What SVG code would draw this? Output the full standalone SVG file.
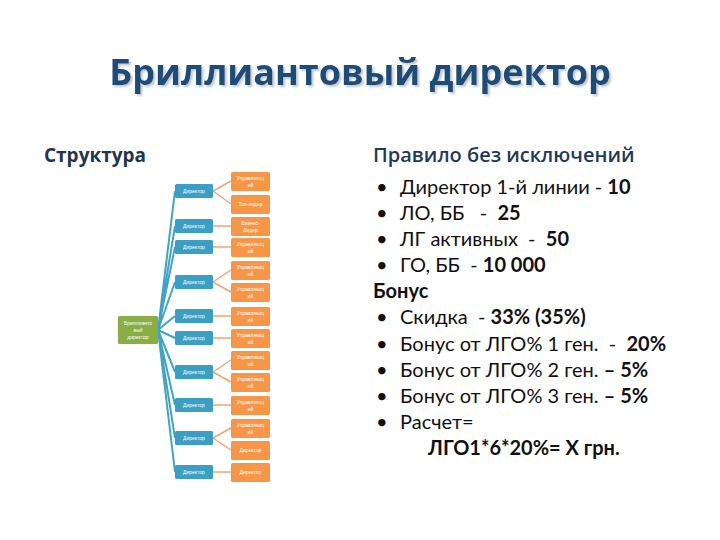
<svg xmlns="http://www.w3.org/2000/svg" width="720" height="540" viewBox="0 0 720 540">
<style>
.t{font-family:"Open Sans","DejaVu Sans",sans-serif;font-weight:bold}
.b{font-family:Lato,"Liberation Sans",sans-serif;font-size:20px;fill:#111}
.bb{font-weight:bold}
.dir rect{fill:#3A9FC4}
.org rect{fill:#F79646}
.root rect{fill:#8AAE45}
.nt{font-family:"Liberation Sans",sans-serif;font-size:5px;fill:#fff;text-anchor:middle}
.bl{stroke:#3FA4C8;stroke-width:2;fill:none}
.ol{stroke:#F3A46E;stroke-width:1.5;fill:none}
</style>
<defs>
<filter id="sh" x="-5%" y="-30%" width="110%" height="160%"><feDropShadow dx="2" dy="2" stdDeviation="1" flood-color="#9aa0a8" flood-opacity="0.6"/></filter>
</defs>
<rect width="720" height="540" fill="#fff"/>
<text x="360" y="85" class="t" font-size="36" text-anchor="middle" fill="#1F4E79" filter="url(#sh)">Бриллиантовый директор</text>
<text x="44" y="162" class="t" font-size="19" fill="#1F3550">Структура</text>
<text x="373" y="162" class="t" font-size="20" fill="#1F3A5C" style="font-weight:600">Правило без исключений</text>

<g id="connectors">
<path class="bl" d="M158,330 L175,191 M158,330 L175,226 M158,330 L175,247 M158,330 L175,282 M158,330 L175,316 M158,330 L175,338 M158,330 L175,372 M158,330 L175,405 M158,330 L175,438 M158,330 L175,472"/>
<path class="ol" d="M213,191 L231,181 M213,191 L231,204 M213,226 L231,226 M213,247 L231,247 M213,282 L231,270 M213,282 L231,292 M213,316 L231,316 M213,338 L231,338 M213,372 L231,360 M213,372 L231,382 M213,405 L231,405 M213,438 L231,428 M213,438 L231,450 M213,472 L231,472"/>
</g>

<g id="root" class="root"><rect x="118" y="316" width="40" height="28" rx="1.5"/>
<text class="nt" x="138" y="325">Бриллианто</text><text class="nt" x="138" y="332">вый</text><text class="nt" x="138" y="339">директор</text></g>

<g id="d1" class="dir"><rect x="175" y="184" width="38" height="14" rx="1.5"/><text class="nt" x="194" y="192.5">Директор</text></g>
<g id="d2" class="dir"><rect x="175" y="219" width="38" height="14" rx="1.5"/><text class="nt" x="194" y="227.5">Директор</text></g>
<g id="d3" class="dir"><rect x="175" y="240" width="38" height="14" rx="1.5"/><text class="nt" x="194" y="248.5">Директор</text></g>
<g id="d4" class="dir"><rect x="175" y="275" width="38" height="14" rx="1.5"/><text class="nt" x="194" y="283.5">Директор</text></g>
<g id="d5" class="dir"><rect x="175" y="309" width="38" height="14" rx="1.5"/><text class="nt" x="194" y="317.5">Директор</text></g>
<g id="d6" class="dir"><rect x="175" y="331" width="38" height="14" rx="1.5"/><text class="nt" x="194" y="339.5">Директор</text></g>
<g id="d7" class="dir"><rect x="175" y="365" width="38" height="14" rx="1.5"/><text class="nt" x="194" y="373.5">Директор</text></g>
<g id="d8" class="dir"><rect x="175" y="398" width="38" height="14" rx="1.5"/><text class="nt" x="194" y="406.5">Директор</text></g>
<g id="d9" class="dir"><rect x="175" y="431" width="38" height="14" rx="1.5"/><text class="nt" x="194" y="439.5">Директор</text></g>
<g id="d10" class="dir"><rect x="175" y="465" width="38" height="14" rx="1.5"/><text class="nt" x="194" y="473.5">Директор</text></g>

<g id="o1" class="org"><rect x="231" y="172" width="39" height="19" rx="1.5"/><text class="nt" x="250.5" y="179.5">Управляющ</text><text class="nt" x="250.5" y="186.5">ий</text></g>
<g id="o2" class="org"><rect x="231" y="195" width="39" height="19" rx="1.5"/><text class="nt" x="250.5" y="206">Топ-лидер</text></g>
<g id="o3" class="org"><rect x="231" y="217" width="39" height="19" rx="1.5"/><text class="nt" x="250.5" y="224.5">Бизнес-</text><text class="nt" x="250.5" y="231.5">Лидер</text></g>
<g id="o4" class="org"><rect x="231" y="238" width="39" height="19" rx="1.5"/><text class="nt" x="250.5" y="245.5">Управляющ</text><text class="nt" x="250.5" y="252.5">ий</text></g>
<g id="o5" class="org"><rect x="231" y="261" width="39" height="19" rx="1.5"/><text class="nt" x="250.5" y="268.5">Управляющ</text><text class="nt" x="250.5" y="275.5">ий</text></g>
<g id="o6" class="org"><rect x="231" y="283" width="39" height="19" rx="1.5"/><text class="nt" x="250.5" y="290.5">Управляющ</text><text class="nt" x="250.5" y="297.5">ий</text></g>
<g id="o7" class="org"><rect x="231" y="307" width="39" height="19" rx="1.5"/><text class="nt" x="250.5" y="314.5">Управляющ</text><text class="nt" x="250.5" y="321.5">ий</text></g>
<g id="o8" class="org"><rect x="231" y="329" width="39" height="19" rx="1.5"/><text class="nt" x="250.5" y="336.5">Управляющ</text><text class="nt" x="250.5" y="343.5">ий</text></g>
<g id="o9" class="org"><rect x="231" y="351" width="39" height="19" rx="1.5"/><text class="nt" x="250.5" y="358.5">Управляющ</text><text class="nt" x="250.5" y="365.5">ий</text></g>
<g id="o10" class="org"><rect x="231" y="373" width="39" height="19" rx="1.5"/><text class="nt" x="250.5" y="380.5">Управляющ</text><text class="nt" x="250.5" y="387.5">ий</text></g>
<g id="o11" class="org"><rect x="231" y="396" width="39" height="19" rx="1.5"/><text class="nt" x="250.5" y="403.5">Управляющ</text><text class="nt" x="250.5" y="410.5">ий</text></g>
<g id="o12" class="org"><rect x="231" y="419" width="39" height="19" rx="1.5"/><text class="nt" x="250.5" y="426.5">Управляющ</text><text class="nt" x="250.5" y="433.5">ий</text></g>
<g id="o13" class="org"><rect x="231" y="441" width="39" height="19" rx="1.5"/><text class="nt" x="250.5" y="452">Директор</text></g>
<g id="o14" class="org"><rect x="231" y="463" width="39" height="19" rx="1.5"/><text class="nt" x="250.5" y="474">Директор</text></g>

<g class="b">
<text x="376" y="194">•</text><text x="400" y="194">Директор 1-й линии - <tspan class="bb">10</tspan></text>
<text x="376" y="220">•</text><text x="400" y="220">ЛО, ББ &#160; - &#160;<tspan class="bb">25</tspan></text>
<text x="376" y="246">•</text><text x="400" y="246">ЛГ активных &#160;- &#160;<tspan class="bb">50</tspan></text>
<text x="376" y="272">•</text><text x="400" y="272">ГО, ББ &#160;- <tspan class="bb">10 000</tspan></text>
<text x="373" y="298" class="bb">Бонус</text>
<text x="376" y="324">•</text><text x="400" y="324">Скидка &#160;- <tspan class="bb">33% (35%)</tspan></text>
<text x="376" y="351">•</text><text x="400" y="351">Бонус от ЛГО% 1 ген. &#160;- &#160;<tspan class="bb">20%</tspan></text>
<text x="376" y="377">•</text><text x="400" y="377">Бонус от ЛГО% 2 ген. <tspan class="bb">– 5%</tspan></text>
<text x="376" y="403">•</text><text x="400" y="403">Бонус от ЛГО% 3 ген. <tspan class="bb">– 5%</tspan></text>
<text x="376" y="429">•</text><text x="400" y="429">Расчет=</text>
<text x="428" y="455" class="bb">ЛГО1*6*20%= Х грн.</text>
</g>
</svg>
